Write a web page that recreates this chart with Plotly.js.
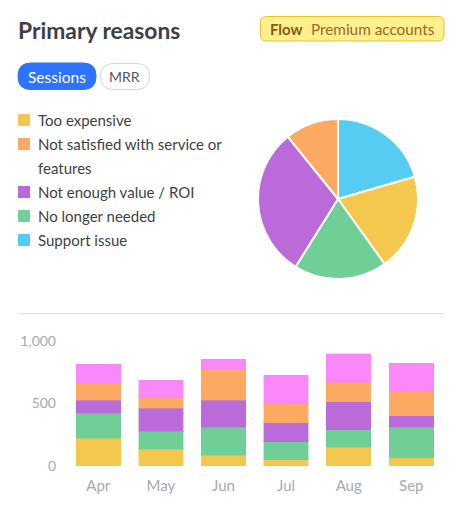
<!DOCTYPE html>
<html><head><meta charset="utf-8">
<script src="https://cdn.plot.ly/plotly-3.0.1.min.js"></script>
<style>html,body{margin:0;padding:0;background:#fff;overflow:hidden}#c{width:463px;height:522px}</style>
</head><body><div id="c"></div>
<script>
const months = ['Apr','May','Jun','Jul','Aug','Sep'];
const yellowBar = [221,136,88,51,152,67];
const greenBar = [200,141,224,144,139,245];
const purpleBar = [107,187,216,152,224,91];
const orangeBar = [131,88,245,152,155,197];
const pinkBar = [155,133,80,227,229,221];
const barColors = ['#F4C84E','#70CF97','#BB6BD9','#FBA963','#FA88FA'];
const barSeries = [yellowBar,greenBar,purpleBar,orangeBar,pinkBar];
const barNames = ['Too expensive','No longer needed','Not enough value / ROI','Not satisfied with service or features','Other'];
const pieLabels = ['Support issue','Too expensive','No longer needed','Not enough value / ROI','Not satisfied with service or features'];
const pieValues = [20.5,19.6,18.8,30.3,10.8];
const pieColors = ['#56CCF2','#F4C84E','#70CF97','#BB6BD9','#FBA963'];
const legendLines = [['Too expensive','#F4C84E'],['Not satisfied with service or','#FBA963'],['features',null],['Not enough value / ROI','#BB6BD9'],['No longer needed','#70CF97'],['Support issue','#56CCF2']];
const FONT = 'Lato, sans-serif';
const W=463,H=522;
const px=x=>x/W, py=y=>1-y/H;
function rr(x0,y0,x1,y1,r,fill,line){
  const path=`M ${px(x0+r)} ${py(y0)} L ${px(x1-r)} ${py(y0)} Q ${px(x1)} ${py(y0)} ${px(x1)} ${py(y0+r)} L ${px(x1)} ${py(y1-r)} Q ${px(x1)} ${py(y1)} ${px(x1-r)} ${py(y1)} L ${px(x0+r)} ${py(y1)} Q ${px(x0)} ${py(y1)} ${px(x0)} ${py(y1-r)} L ${px(x0)} ${py(y0+r)} Q ${px(x0)} ${py(y0)} ${px(x0+r)} ${py(y0)} Z`;
  return {type:'path',xref:'paper',yref:'paper',path,fillcolor:fill,line:{color:line||fill,width:1},layer:'below'};
}
function txt(x,y,text,size,color,anchor){
  return {xref:'paper',yref:'paper',x:px(x),y:py(y),text,showarrow:false,xanchor:anchor||'left',yanchor:'middle',font:{family:FONT,size,color},borderpad:0,borderwidth:0};
}
const shapes=[
  rr(260.5,16.5,444,41,6,'#FFF08F','#EDBE2E'),
  rr(18,63,96,89.5,13,'#2E74FB','#2E74FB'),
  rr(100.5,63.5,149.5,89.5,13,'#FFFFFF','#D5D5D8'),
  {type:'line',xref:'paper',yref:'paper',x0:px(18),x1:px(445),y0:py(313.5),y1:py(313.5),line:{color:'#E4E4E7',width:1}}
];
const annotations=[
  txt(18,29.5,'<b>Primary reasons</b>',22.8,'#3E3F47'),
  txt(270,29,'<b>Flow</b>',15,'#8C5A12'),
  txt(311,29,'Premium accounts',15.3,'#9A6A1E'),
  txt(57,76.5,'Sessions',15.5,'#FFFFFF','center'),
  txt(125,76.5,'MRR',14,'#55565E','center')
];
legendLines.forEach((l,i)=>{
  const y=120+i*24;
  annotations.push(txt(38,y,l[0],15,'#3E3F47'));
  if(l[1]) shapes.push({type:'rect',xref:'paper',yref:'paper',x0:px(18),x1:px(30),y0:py(y-6),y1:py(y+6),fillcolor:l[1],line:{width:0}});
});
const traces=barSeries.map((v,i)=>({type:'bar',x:months,y:v,name:barNames[i],
  marker:{color:barColors[i],line:{color:barColors[i]+'66',width:1}},hoverinfo:'skip'}));
traces.push({type:'pie',labels:pieLabels,values:pieValues,sort:false,direction:'clockwise',rotation:0,
  marker:{colors:pieColors,line:{color:'#FFFFFF',width:2}},textinfo:'none',hoverinfo:'skip',
  domain:{x:[px(258),px(418)],y:[py(279),py(119)]},showlegend:false});
Plotly.newPlot('c',traces,{
  width:W,height:H,margin:{l:0,r:0,t:0,b:0},paper_bgcolor:'#fff',plot_bgcolor:'#fff',
  barmode:'stack',bargap:0.29,showlegend:false,
  font:{family:FONT},
  xaxis:{domain:[px(67),px(442.6)],anchor:'y',showgrid:false,zeroline:false,showline:false,ticks:'',tickfont:{family:FONT,size:15,color:'#A9A9B2'},ticklabelstandoff:9},
  yaxis:{domain:[py(466),py(334)],range:[0,1056],anchor:'x',showgrid:false,zeroline:false,showline:false,ticks:'',tickvals:[0,500,1000],ticktext:['0','500','1,000'],tickfont:{family:FONT,size:14,color:'#A9A9B2'},automargin:false,ticklabelstandoff:10},
  shapes,annotations
},{staticPlot:true,displayModeBar:false});
</script></body></html>
